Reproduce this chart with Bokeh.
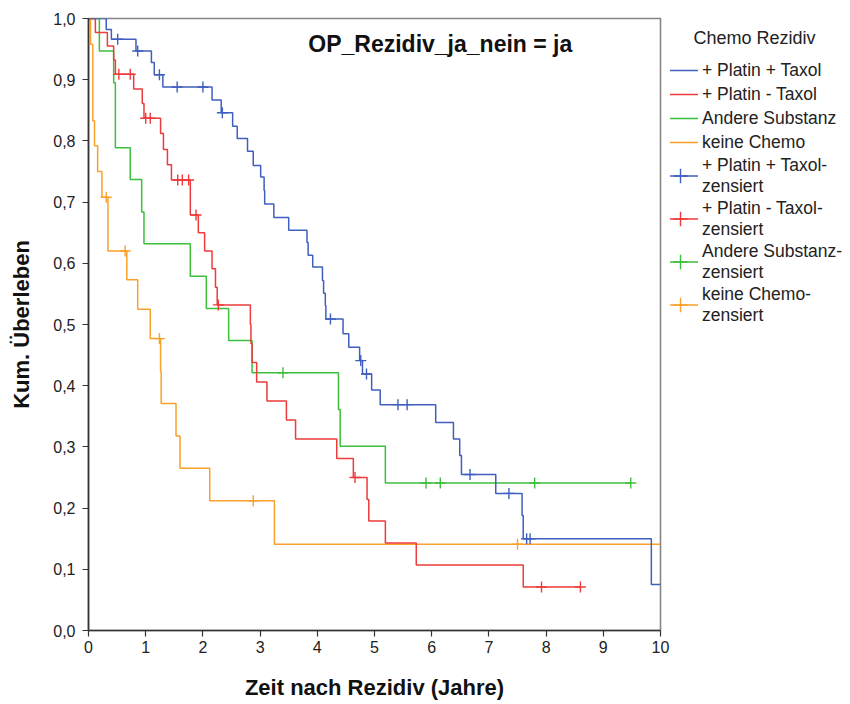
from bokeh.plotting import figure
from bokeh.layouts import row
from bokeh.models import (Legend, LegendItem, FixedTicker, CustomJSTickFormatter,
                          Label, Range1d)
from bokeh.embed import file_html
from bokeh.resources import INLINE

FONT = "Liberation Sans"

# ---------------- data ----------------
x_ticks = [0, 1, 2, 3, 4, 5, 6, 7, 8, 9, 10]
y_ticks = [0.0, 0.1, 0.2, 0.3, 0.4, 0.5, 0.6, 0.7, 0.8, 0.9, 1.0]

# + Platin + Taxol
blue_t = [0, 0.31, 0.40, 0.83, 1.10, 1.15, 1.30, 2.16, 2.32, 2.52, 2.60, 2.78, 2.88,
          3.01, 3.07, 3.08, 3.24, 3.50, 3.82, 3.84, 3.92, 4.09, 4.11, 4.14, 4.15,
          4.45, 4.55, 4.74, 4.79, 4.95, 5.10, 6.07, 6.38, 6.49, 6.52, 7.12, 7.58,
          7.60, 9.84]
blue_s = [1.0, 0.982, 0.966, 0.947, 0.928, 0.908, 0.888, 0.867, 0.846, 0.824, 0.804,
          0.783, 0.760, 0.741, 0.719, 0.697, 0.675, 0.654, 0.634, 0.613, 0.594, 0.572,
          0.551, 0.531, 0.509, 0.485, 0.463, 0.441, 0.419, 0.393, 0.369, 0.340, 0.313,
          0.286, 0.255, 0.224, 0.188, 0.150, 0.075]
blue_end = 10.0
blue_ct = [0.51, 0.86, 1.24, 1.55, 2.00, 2.34, 4.23, 4.76, 4.86, 5.41, 5.57, 6.67,
           7.35, 7.66, 7.72]
blue_cs = [0.966, 0.947, 0.908, 0.888, 0.888, 0.846, 0.509, 0.441, 0.419, 0.369,
           0.369, 0.255, 0.224, 0.150, 0.150]

# + Platin - Taxol
red_t = [0, 0.12, 0.33, 0.44, 0.47, 0.79, 0.94, 0.97, 1.26, 1.31, 1.38, 1.45, 1.78,
         1.92, 2.03, 2.16, 2.22, 2.25, 2.83, 2.84, 2.86, 2.94, 3.12, 3.46, 3.62, 4.34,
         4.63, 4.87, 4.90, 5.19, 5.73, 7.60]
red_s = [1.0, 0.977, 0.955, 0.932, 0.909, 0.885, 0.861, 0.837, 0.812, 0.786, 0.761,
         0.736, 0.679, 0.650, 0.620, 0.591, 0.561, 0.532, 0.500, 0.469, 0.438, 0.406,
         0.375, 0.344, 0.313, 0.281, 0.250, 0.214, 0.179, 0.143, 0.107, 0.071]
red_end = 8.60
red_ct = [0.53, 0.73, 1.00, 1.08, 1.56, 1.64, 1.75, 1.88, 2.27, 4.66, 7.92, 8.60]
red_cs = [0.909, 0.909, 0.837, 0.837, 0.736, 0.736, 0.736, 0.679, 0.532, 0.250,
          0.071, 0.071]

# Andere Substanz
green_t = [0, 0.19, 0.44, 0.47, 0.73, 0.93, 0.97, 1.78, 2.06, 2.45, 2.86, 4.37,
           4.40, 5.19]
green_s = [1.0, 0.947, 0.895, 0.789, 0.737, 0.684, 0.632, 0.579, 0.526, 0.474,
           0.421, 0.361, 0.301, 0.241]
green_end = 9.48
green_ct = [3.40, 5.90, 6.15, 7.80, 9.48]
green_cs = [0.421, 0.241, 0.241, 0.241, 0.241]

# keine Chemo
orange_t = [0, 0.035, 0.075, 0.105, 0.16, 0.235, 0.34, 0.67, 0.86, 1.08, 1.26, 1.27,
            1.53, 1.60, 2.12, 3.25]
orange_s = [1.0, 0.958, 0.833, 0.792, 0.750, 0.708, 0.620, 0.573, 0.525, 0.477,
            0.424, 0.371, 0.318, 0.265, 0.212, 0.141]
orange_end = 10.0
orange_ct = [0.31, 0.64, 1.24, 2.88, 7.50]
orange_cs = [0.708, 0.620, 0.477, 0.212, 0.141]

groups = ["+ Platin + Taxol", "+ Platin - Taxol", "Andere Substanz", "keine Chemo"]
colors = ["#3f5fbf", "#ee3b3b", "#3cbf3c", "#f9a12b"]
censor_labels = ["+ Platin + Taxol-\nzensiert", "+ Platin - Taxol-\nzensiert",
                 "Andere Substanz-\nzensiert", "keine Chemo-\nzensiert"]
legend_title = "Chemo Rezidiv"

data = [(blue_t, blue_s, blue_end, blue_ct, blue_cs),
        (red_t, red_s, red_end, red_ct, red_cs),
        (green_t, green_s, green_end, green_ct, green_cs),
        (orange_t, orange_s, orange_end, orange_ct, orange_cs)]


def step_xy(t, s, end):
    return list(t) + [end], list(s) + [s[-1]]


# ---------------- main figure ----------------
p = figure(width=670, height=704, output_backend="svg", toolbar_location=None,
           x_range=Range1d(0, 10), y_range=Range1d(0, 1),
           min_border_left=88, min_border_right=10, min_border_top=18,
           min_border_bottom=74)
p.xgrid.visible = False
p.ygrid.visible = False
p.outline_line_color = "#858585"
p.outline_line_width = 1.6
p.background_fill_color = "white"
p.border_fill_color = "white"

for i in [3, 2, 1, 0]:
    t, s, end, ct, cs = data[i]
    xs, ys = step_xy(t, s, end)
    p.step(xs, ys, mode="after", line_color=colors[i], line_width=1.5)
    p.scatter(ct, cs, marker="cross", size=11, line_color=colors[i], line_width=1.4)

for ax in (p.xaxis[0], p.yaxis[0]):
    ax.axis_line_color = "#333333"
    ax.axis_line_width = 1.6
    ax.major_tick_line_color = "#333333"
    ax.major_tick_line_width = 1.2
    ax.major_tick_out = 6
    ax.major_tick_in = 0
    ax.minor_tick_line_color = None
    ax.major_label_text_font = FONT
    ax.major_label_text_font_size = "16px"
    ax.major_label_text_color = "#222222"
    ax.axis_label_text_font = FONT
    ax.axis_label_text_font_size = "22px"
    ax.axis_label_text_font_style = "bold"
    ax.axis_label_text_color = "#111111"

p.xaxis.ticker = FixedTicker(ticks=x_ticks)
p.yaxis.ticker = FixedTicker(ticks=y_ticks)
p.yaxis.formatter = CustomJSTickFormatter(code="return tick.toFixed(1).replace('.', ',');")
p.xaxis.axis_label = "Zeit nach Rezidiv (Jahre)"
p.yaxis.axis_label = "Kum. Überleben"
p.xaxis.major_label_standoff = 4
p.yaxis.major_label_standoff = 7
p.xaxis.axis_label_standoff = 19
p.yaxis.axis_label_standoff = 16

p.add_layout(Label(x=6.15, y=0.959, text="OP_Rezidiv_ja_nein = ja",
                   text_align="center", text_baseline="middle",
                   text_font=FONT, text_font_size="23px", text_font_style="bold",
                   text_color="#111111"))

# ---------------- legend panel (same frame top/bottom as main plot) ----------------
q = figure(width=180, height=704, output_backend="svg", toolbar_location=None,
           x_range=Range1d(0, 1), y_range=Range1d(0, 1),
           min_border_left=0, min_border_right=0, min_border_top=18,
           min_border_bottom=74)
q.axis.visible = False
q.grid.visible = False
q.outline_line_color = None
q.background_fill_color = "white"
q.border_fill_color = "white"
# renderers that only feed the legend icons: same series, mapped off-view
q.extra_x_ranges = {"off": Range1d(-30, -20)}

leg_steps = []
leg_cross = []
for i in range(4):
    t, s, end, ct, cs = data[i]
    xs, ys = step_xy(t, s, end)
    leg_steps.append(q.step(xs, ys, mode="after", line_color=colors[i], line_width=1.5,
                            x_range_name="off"))
    leg_cross.append(q.scatter(ct, cs, marker="cross", size=11, line_color=colors[i],
                               line_width=1.4, x_range_name="off"))

q.add_layout(Label(x=23, y=593, x_units="screen", y_units="screen", text=legend_title,
                   text_align="left", text_baseline="middle", text_font=FONT,
                   text_font_size="18px", text_color="#222222"))

common = dict(label_text_font=FONT, label_text_font_size="17.5px",
              label_text_color="#222222", label_text_line_height=1.05,
              glyph_width=36, label_standoff=4, spacing=0, padding=0, margin=0,
              border_line_color=None, background_fill_alpha=0)

legA = Legend(items=[LegendItem(label=groups[i], renderers=[leg_steps[i]])
                     for i in range(4)],
              location=(-8, 476), glyph_height=24, label_height=24, **common)
legB = Legend(items=[LegendItem(label=censor_labels[i],
                                renderers=[leg_steps[i], leg_cross[i]])
                     for i in range(4)],
              location=(-8, 304), glyph_height=43, label_height=43, **common)
q.add_layout(legA)
q.add_layout(legB)

open("out.html", "w").write(file_html(row(p, q), INLINE))
